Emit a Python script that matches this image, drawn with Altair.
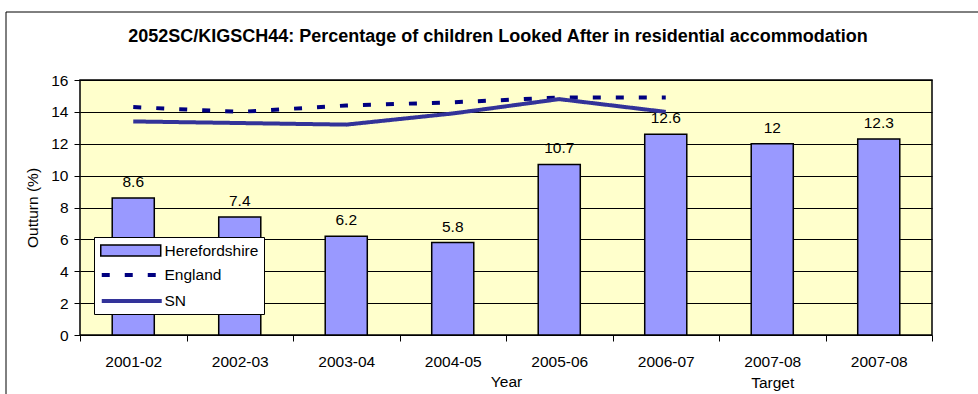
import altair as alt
import pandas as pd

# Categories and series values
years = ["2001-02", "2002-03", "2003-04", "2004-05", "2005-06", "2006-07", "2007-08", "2007-08"]
notes = ["", "", "", "", "", "", "Target", ""]
herefordshire = [8.6, 7.4, 6.2, 5.8, 10.7, 12.6, 12, 12.3]
england = [14.3, 14.0, 14.4, 14.6, 14.9, 14.9]
sn = [13.4, 13.3, 13.2, 13.9, 14.8, 14.0]

bar_series = ["Herefordshire"]
bar_colors = ["#9999FF"]
line_series = ["England", "SN"]
line_colors = ["#000080", "#333399"]
line_dashes = [[8, 15], [1, 0]]
y_ticks = [0, 2, 4, 6, 8, 10, 12, 14, 16]

FONT = "Liberation Sans"

# unique category keys; "|" separates a second label line
keys = [f"{y}|{n}" if n else y for y, n in zip(years, notes)]

bars = pd.DataFrame({"key": keys, "value": herefordshire, "series": bar_series[0]})
lines = pd.concat([
    pd.DataFrame({"key": keys[:len(england)], "value": england, "series": line_series[0]}),
    pd.DataFrame({"key": keys[:len(sn)], "value": sn, "series": line_series[1]}),
])

x_enc = alt.X(
    "key:N",
    sort=keys,
    scale=alt.Scale(domain=keys, paddingInner=0, paddingOuter=0),
    axis=alt.Axis(
        title="Year",
        labelExpr="split(datum.label, '|')",
        labelAngle=0,
        labelBaseline="alphabetic",
        labelPadding=25,
        labelLineHeight=21,
        tickBand="extent",
        tickSize=6,
        domain=False,
        grid=False,
        titleY=51,
        titleBaseline="alphabetic",
        titleFontWeight="normal",
    ),
)

y_enc = alt.Y(
    "value:Q",
    scale=alt.Scale(domain=[0, 16]),
    axis=alt.Axis(
        title="Outturn (%)",
        values=y_ticks,
        labelOverlap=False,
        tickSize=6,
        labelPadding=6,
        domain=False,
        grid=True,
        gridColor="black",
        gridWidth=1,
        titlePadding=10,
        titleFontWeight="normal",
    ),
)

common_legend = dict(
    orient="none",
    legendX=14,
    padding=5,
    labelFont=FONT,
    labelFontSize=15.5,
    labelColor="black",
)

# bar legend carries the white box; a blank bottom title stretches it
# down over the two line entries
bar_legend = alt.Legend(
    title=" ",
    titleOrient="bottom",
    titleFontSize=13,
    titlePadding=36.5,
    fillColor="white",
    strokeColor="black",
    legendY=157,
    symbolSize=240,
    symbolType="M-0.871,-0.71H6.871V0.71H-0.871Z",
    symbolStrokeColor="black",
    symbolStrokeWidth=1.5,
    symbolFillColor=bar_colors[0],
    labelOffset=48.5,
    zindex=1,
    **common_legend,
)

line_legend = alt.Legend(
    title=None,
    legendY=182.25,
    symbolSize=100,
    symbolType="M-1,0H11",
    symbolStrokeWidth=4,
    labelOffset=50,
    rowPadding=8,
    zindex=2,
    **common_legend,
)

bar_layer = alt.Chart(bars).mark_bar(
    width=alt.RelativeBandSize(0.395), stroke="black", strokeWidth=1.5, opacity=1
).encode(
    x=x_enc,
    y=y_enc,
    fill=alt.Fill("series:N", scale=alt.Scale(domain=bar_series, range=bar_colors), legend=bar_legend),
)

label_layer = alt.Chart(bars).mark_text(
    dy=-11, baseline="alphabetic", font=FONT, fontSize=15.5, color="black"
).encode(
    x=x_enc,
    y=y_enc,
    text=alt.Text("value:Q"),
)

line_layer = alt.Chart(lines).mark_line(strokeWidth=4).encode(
    x=x_enc,
    y=y_enc,
    stroke=alt.Stroke("series:N", scale=alt.Scale(domain=line_series, range=line_colors), legend=line_legend),
    strokeDash=alt.StrokeDash(
        "series:N",
        scale=alt.Scale(domain=line_series, range=line_dashes),
        legend=line_legend,
    ),
)

# outer chart frame
frame = alt.Chart(alt.Data(values=[{"f": 1}])).mark_rect(
    fill="transparent", stroke="black", strokeWidth=1
).encode(
    x=alt.value(-74),
    x2=alt.value(1100),
    y=alt.value(-68),
    y2=alt.value(600),
)

chart = alt.layer(frame, bar_layer, line_layer, label_layer).properties(
    width=852,
    height=255,
    autosize=alt.AutoSizeParams(type="none"),
    padding={"left": 80, "top": 80, "right": 46, "bottom": 59},
    background="white",
    title=alt.TitleParams(
        "2052SC/KIGSCH44: Percentage of children Looked After in residential accommodation",
        font=FONT,
        fontSize=18,
        fontWeight="bold",
        color="black",
        anchor="middle",
        frame="group",
        dx=-8,
        baseline="alphabetic",
        offset=-48,
    ),
).configure_view(
    fill="#FFFFCC", stroke="black", strokeWidth=1.5
).configure_axis(
    labelFont=FONT,
    labelFontSize=15.5,
    labelColor="black",
    titleFont=FONT,
    titleFontSize=15.5,
    titleColor="black",
    tickColor="black",
    domainColor="black",
)

chart.save("out.html", embed_options={"renderer": "svg", "actions": False})
